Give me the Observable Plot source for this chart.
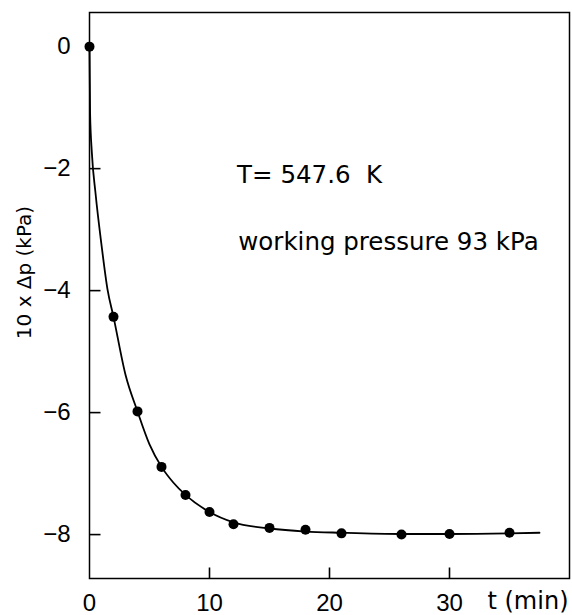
<!DOCTYPE html>
<html><head><meta charset="utf-8">
<script src="https://cdn.jsdelivr.net/npm/d3@7"></script>
<script src="https://cdn.jsdelivr.net/npm/@observablehq/plot@0.6"></script>
<style>body{margin:0;background:#fff}</style>
</head><body><div id="chart"></div>
<script>
// measured points: time (min) vs 10 x Δp (kPa)
const pointT  = [0, 2, 4, 6, 8, 10, 12, 15, 18, 21, 26, 30, 35];
const pointDP = [0, -4.43, -5.98, -6.89, -7.35, -7.63, -7.83, -7.89, -7.92, -7.98, -8.00, -7.99, -7.97];
// fitted curve
const curveT  = [0, 0.05, 0.2, 0.5, 1, 1.5, 2, 3, 4, 5, 6, 7, 8, 10, 12, 15, 18, 21, 26, 30, 35, 37.5];
const curveDP = [0, -1.1, -1.75, -2.4, -3.25, -3.98, -4.43, -5.38, -5.98, -6.52, -6.89, -7.15, -7.35, -7.63, -7.8, -7.9, -7.95, -7.97, -7.99, -7.99, -7.98, -7.97];
const xTicks = [0, 10, 20, 30];
const yTicks = [0, -2, -4, -6, -8];
const yLabel = "10 x Δp (kPa)";
const xLabel = "t (min)";
const noteText = ["T= 547.6  K", "working pressure 93 kPa"];
const noteT = [12.3, 12.4];
const noteDP = [-2.11, -3.21];

const points = pointT.map((t, i) => ({t, dp: pointDP[i]}));
const curve = curveT.map((t, i) => ({t, dp: curveDP[i]}));
const notes = noteText.map((s, i) => ({s, t: noteT[i], dp: noteDP[i]}));
const fmt = d => d === 0 ? "0" : "\u2212" + Math.abs(d);
const W = 572, H = 615, mT = 12, mR = 3, mB = 37, mL = 89, tick = 11;
const xDom = [0, 40], yDom = [-8.72, 0.56];
const xPer = (W - mL - mR) / (xDom[1] - xDom[0]);
const yPer = (H - mT - mB) / (yDom[1] - yDom[0]);
const yTickRows = yTicks.filter(d => d !== 0).map(v => ({v, a: xDom[0], b: xDom[0] + tick / xPer}));
const xTickRows = xTicks.filter(d => d !== 0).map(v => ({v, a: yDom[0], b: yDom[0] + tick / yPer}));

const chart = Plot.plot({
  width: W, height: H,
  marginTop: mT, marginRight: mR, marginBottom: mB, marginLeft: mL,
  x: {domain: xDom, axis: null},
  y: {domain: yDom, axis: null},
  style: {fontFamily: "'Liberation Sans', Arial, sans-serif", fontSize: "24px", color: "black", background: "white", whiteSpace: "pre"},
  marks: [
    Plot.frame({stroke: "black", strokeWidth: 1.5}),
    Plot.link(yTickRows, {x1: "a", x2: "b", y1: "v", y2: "v", stroke: "black", strokeWidth: 1.6}),
    Plot.link(xTickRows, {x1: "v", x2: "v", y1: "a", y2: "b", stroke: "black", strokeWidth: 1.6}),
    Plot.axisY(yTicks, {tickSize: 0, tickPadding: 19, tickFormat: fmt, fontSize: 24, label: null}),
    Plot.axisX(xTicks, {tickSize: 0, tickPadding: 15, tickFormat: d => String(d), fontSize: 24, label: null}),
    Plot.line(curve, {x: "t", y: "dp", curve: "monotone-x", stroke: "black", strokeWidth: 1.8}),
    Plot.dot(points, {x: "t", y: "dp", r: 5, fill: "black", stroke: "none"}),
    Plot.text(notes, {x: "t", y: "dp", text: "s", textAnchor: "start", fontSize: 24.5, fontFamily: "'DejaVu Sans', sans-serif"}),
    Plot.text([yLabel], {frameAnchor: "left", textAnchor: "middle", rotate: -90, dx: -65, dy: -23, fontSize: 20, fontFamily: "'DejaVu Sans', sans-serif"}),
    Plot.text([xLabel], {frameAnchor: "bottom-right", textAnchor: "end", lineAnchor: "middle", dx: -1, dy: 23, fontSize: 24, fontFamily: "'DejaVu Sans', sans-serif"})
  ]
});
document.getElementById("chart").appendChild(chart);
</script>
</body></html>
